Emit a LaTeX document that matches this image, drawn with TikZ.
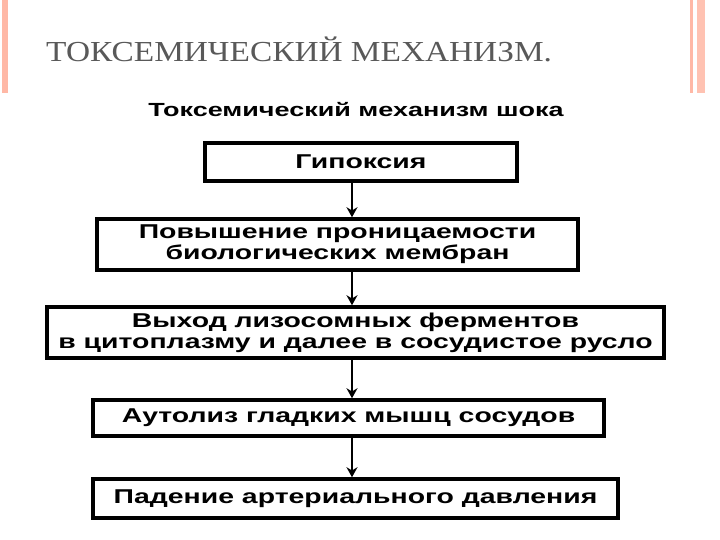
\documentclass[tikz,border=0pt]{standalone}
\usepackage{fontspec}
\usetikzlibrary{arrows.meta}
\setmainfont{Liberation Serif}
\newfontfamily\ars{Liberation Sans}
\newcommand\wx[1]{\scalebox{1.42}[1]{#1}}
\begin{document}
\begin{tikzpicture}[x=1pt,y=-1pt,
  bx/.style={draw=black,line width=3.5pt,font=\ars\bfseries\fontsize{20}{21}\selectfont,align=center,inner sep=0pt},
  ar/.style={line width=2.5pt,-{Stealth[length=10pt,width=11pt]}}]
\useasboundingbox (0,0) rectangle (720,540);
\fill[white] (0,0) rectangle (720,540);
\fill[orange!40!red!35] (2,0) rectangle (8,93);
\fill[orange!40!red!35] (690,0) rectangle (693,93);
\fill[orange!40!red!30] (697,0) rectangle (705,93);
\node[anchor=base west,inner sep=0pt,text=black!65,font=\fontsize{29}{30}\selectfont] (t) at (46,62) {\scalebox{1.15}[1]{ТОКСЕМИЧЕСКИЙ МЕХАНИЗМ.}};
\node[font=\ars\bfseries\fontsize{19}{20}\selectfont] (s) at (356,110) {\wx{Токсемический механизм шока}};
\node[bx,minimum width=312pt,minimum height=38pt] (b1) at (361,162) {\wx{Гипоксия}};
\node[bx,minimum width=481pt,minimum height=51pt] (b2) at (337.5,244.5) {\wx{Повышение проницаемости}\\\wx{биологических мембран}};
\node[bx,minimum width=617pt,minimum height=51pt] (b3) at (355.5,332.5) {\wx{Выход лизосомных ферментов}\\\wx{в цитоплазму и далее в сосудистое русло}};
\node[bx,minimum width=511pt,minimum height=36pt] (b4) at (348.5,418) {\wx{Аутолиз гладких мышц сосудов}};
\node[bx,minimum width=525pt,minimum height=39pt] (b5) at (355.5,498.5) {\wx{Падение артериального давления}};
\coordinate (ax) at (352,0);
\draw[ar] (b1.south -| ax) -- (b2.north -| ax);
\draw[ar] (b2.south -| ax) -- (b3.north -| ax);
\draw[ar] (b3.south -| ax) -- (b4.north -| ax);
\draw[ar] (b4.south -| ax) -- (b5.north -| ax);
\end{tikzpicture}
\end{document}
